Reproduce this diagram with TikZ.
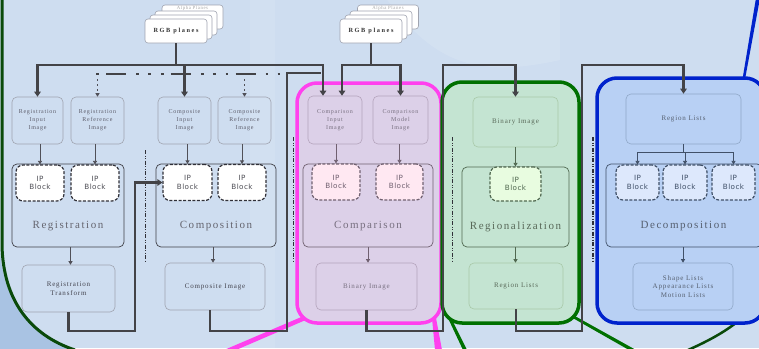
\documentclass[tikz,border=0pt]{standalone}
\usepackage{fontspec}
\setmainfont{Liberation Serif}
\newfontfamily\lsfont[LetterSpace=12]{Liberation Serif}
\newfontfamily\bigfont[LetterSpace=14]{Liberation Serif}
\newfontfamily\rgbfont[LetterSpace=25]{Liberation Serif}
\newfontfamily\ipfont[LetterSpace=6]{DejaVu Sans}
\usetikzlibrary{arrows.meta}
\definecolor{bgc}{HTML}{CEDDF0}
\definecolor{bgdark}{HTML}{A9C3E3}
\definecolor{imgb}{HTML}{A0A4B0}
\definecolor{txtc}{HTML}{5E5E6C}
\definecolor{txtd}{HTML}{44444F}
\definecolor{connc}{HTML}{434347}
\definecolor{thinc}{HTML}{505058}
\definecolor{procc}{HTML}{404048}
\definecolor{ipc}{HTML}{303038}
\definecolor{labc}{HTML}{65656F}
\definecolor{dkgreen}{HTML}{0A4A0A}
\definecolor{pinkc}{HTML}{FF40EE}
\definecolor{pinkfill}{HTML}{DCD0E8}
\definecolor{pinkb}{HTML}{B4A4BC}
\definecolor{pinkproc}{HTML}{706070}
\definecolor{pinkip}{HTML}{FFE8F2}
\definecolor{pinklab}{HTML}{787080}
\definecolor{greenc}{HTML}{007000}
\definecolor{greenfill}{HTML}{C4E4D2}
\definecolor{greenb}{HTML}{A8C8A8}
\definecolor{greenproc}{HTML}{506850}
\definecolor{greenip}{HTML}{E8FCE0}
\definecolor{greenlab}{HTML}{586858}
\definecolor{bluec}{HTML}{0022CC}
\definecolor{bluefill}{HTML}{B8D0F4}
\definecolor{blueb}{HTML}{90A8C8}
\definecolor{blueproc}{HTML}{405068}
\definecolor{blueip}{HTML}{DDE8FC}
\definecolor{bluelab}{HTML}{566070}
\tikzset{
  imgbox/.style={draw=imgb, rounded corners=5pt, line width=0.6pt, align=center,
    font=\lsfont\fontsize{6}{8}\selectfont, text=txtc, inner sep=0pt},
  outbox/.style={imgbox, font=\lsfont\fontsize{7}{8.5}\selectfont, text=txtd},
  ipbox/.style={draw=ipc, dash pattern=on 3pt off 1.6pt, line width=1.2pt, rounded corners=7pt,
    fill=white, align=center, font=\ipfont\fontsize{7.2}{8.8}\selectfont, text=ipc!85, inner sep=0pt},
  procbox/.style={draw=procc, rounded corners=5pt, line width=0.7pt, inner sep=0pt},
  biglabel/.style={font=\bigfont\fontsize{11}{12}\selectfont, text=labc},
  colbox/.style={line width=3.5pt, rounded corners=20pt, inner sep=0pt},
  stackbox/.style={draw=imgb, fill=white, rounded corners=3pt, line width=0.6pt, inner sep=0pt,
    minimum width=62pt, minimum height=24pt},
  conn/.style={draw=connc, line width=2.1pt},
  arr/.style={conn, -{Triangle[width=6.5pt,length=5pt]}},
  thinarr/.style={draw=thinc, line width=0.8pt, -{Triangle[width=4pt,length=3.5pt]}},
  ddline/.style={draw=ipc, line width=1.3pt, dash pattern=on 4pt off 1.5pt on 1pt off 1.5pt on 1pt off 1.5pt},
}
\begin{document}
\begin{tikzpicture}[x=1pt,y=-1pt]
\useasboundingbox (0,0) rectangle (759,348);
\clip (0,0) rectangle (759,348);
% background
\fill[bgc] (0,0) rectangle (759,348);
\fill[white, opacity=0.12] (380,-10) .. controls (430,60) and (470,80) .. (560,60) -- (560,-10) -- cycle;
\fill[white, opacity=0.10] (250,-5) rectangle (275,348);
\fill[bgdark] (0,250) .. controls (3,300) and (30,335) .. (75,350) -- (0,350) -- cycle;
\draw[dkgreen, line width=3pt] (2,-2) -- (2,245) .. controls (3,300) and (30,335) .. (75,350);
\draw[dkgreen, line width=2.5pt] (688,350) .. controls (715,338) and (745,322) .. (762,295);

% callout wedges
\fill[pinkc] (306,315) -- (224,350) -- (236,350) -- (308,319) -- cycle;
\fill[pinkc] (432,318) -- (435,350) -- (442,350) -- (436,318) -- cycle;
\fill[greenc] (447,316) -- (463,350) -- (467,350) -- (450,316) -- cycle;
\fill[greenc] (571,317) -- (629,350) -- (636,350) -- (573,315) -- cycle;
\fill[bluec] (742,82) -- (756,-2) -- (760,-2) -- (744.5,82) -- cycle;

% RGB stacks
\node[stackbox, minimum width=61pt] (alpha1) at (192.5,17) {};
\node[anchor=north, font=\lsfont\fontsize{4.8}{5}\selectfont, text=gray!70, inner sep=0pt] (alpha1t) at ([yshift=-1.5pt]alpha1.north) {Alpha Planes};
\node[stackbox] (l13) at (186,23) {};
\node[stackbox] (l12) at (181,27) {};
\node[stackbox, font=\rgbfont\bfseries\fontsize{6.3}{7}\selectfont, text=black!80] (rgb1) at (176,31) {RGB planes};
\node[stackbox, minimum width=61pt] (alpha2) at (388,17) {};
\node[anchor=north, font=\lsfont\fontsize{4.8}{5}\selectfont, text=gray!70, inner sep=0pt] (alpha2t) at ([yshift=-1.5pt]alpha2.north) {Alpha Planes};
\node[stackbox] (l23) at (381,23) {};
\node[stackbox] (l22) at (376,27) {};
\node[stackbox, font=\rgbfont\bfseries\fontsize{6.3}{7}\selectfont, text=black!80] (rgb2) at (371,31) {RGB planes};

% ---------- connectors under column boxes
\coordinate (busA) at (0,65);
\node[minimum width=101pt, minimum height=47pt, inner sep=0pt] (bimgph) at (366.5,286.5) {};
\node[minimum width=94pt, minimum height=46pt, inner sep=0pt] (rlph) at (516,286) {};
\draw[conn, line join=miter] (bimgph.south) |- (443,331) |- (515.5,65) -- (515.5,80);
\draw[conn, line join=miter] (rlph.south) |- (582,331) |- (683.5,65) -- (683.5,78);

% column backgrounds
\node[colbox, draw=pinkc, fill=pinkfill, minimum width=144pt, minimum height=240pt] (pinkbox) at (369,203) {};
\node[colbox, draw=greenc, fill=greenfill, minimum width=137pt, minimum height=241pt] (greenbox) at (510.5,202.5) {};
\node[colbox, draw=bluec, fill=bluefill, minimum width=168pt, minimum height=245pt] (bluebox) at (681,200.5) {};

% ---------- Column 1: Registration
\node[imgbox, minimum width=51pt, minimum height=47pt] (ri) at (37.5,120.5) {Registration\\Input\\Image};
\node[imgbox, minimum width=53pt, minimum height=47pt] (rr) at (97.5,120.5) {Registration\\Reference\\Image};
\node[procbox, minimum width=112pt, minimum height=83pt] (reg) at (68,205.5) {};
\node[ipbox, minimum width=48pt, minimum height=36pt] (rip1) at (40,183) {IP\\Block};
\node[ipbox, minimum width=48pt, minimum height=36pt] (rip2) at (95,183) {IP\\Block};
\node[biglabel] (reglab) at (68,226) {Registration};
\node[outbox, minimum width=93pt, minimum height=47pt] (rt) at (68.5,288.5) {Registration\\Transform};

% ---------- Column 2: Composition
\node[imgbox, minimum width=53pt, minimum height=47pt] (ci) at (184.5,120.5) {Composite\\Input\\Image};
\node[imgbox, minimum width=53pt, minimum height=47pt] (cr) at (244.5,120.5) {Composite\\Reference\\Image};
\node[procbox, minimum width=120pt, minimum height=83pt] (comp) at (216,205.5) {};
\node[ipbox, minimum width=49pt, minimum height=36pt] (cip1) at (187.5,182.5) {IP\\Block};
\node[ipbox, minimum width=48pt, minimum height=36pt] (cip2) at (242,182.5) {IP\\Block};
\node[biglabel] (complab) at (216,226) {Composition};
\node[outbox, minimum width=100pt, minimum height=47pt] (cimg) at (215,286.5) {Composite Image};

% ---------- Column 3: Comparison
\node[imgbox, draw=pinkb, minimum width=54pt, minimum height=48pt, text=pinklab] (mi) at (335,120) {Comparison\\Input\\Image};
\node[imgbox, draw=pinkb, minimum width=55pt, minimum height=48pt, text=pinklab] (mm) at (400.5,120) {Comparison\\Model\\Image};
\node[procbox, draw=pinkproc, minimum width=130pt, minimum height=83pt] (cmp) at (368,205.5) {};
\node[ipbox, draw=pinkproc, fill=pinkip, text=pinkproc, minimum width=48pt, minimum height=36pt] (mip1) at (336,182) {IP\\Block};
\node[ipbox, draw=pinkproc, fill=pinkip, text=pinkproc, minimum width=47pt, minimum height=36pt] (mip2) at (399.5,182) {IP\\Block};
\node[biglabel, text=pinklab] (cmplab) at (368,226) {Comparison};
\node[outbox, draw=pinkb, text=pinklab, minimum width=101pt, minimum height=47pt] (bimg) at (366.5,286.5) {Binary Image};

% ---------- Column 4: Regionalization
\node[outbox, draw=greenb, text=greenlab, minimum width=85pt, minimum height=50pt] (gbin) at (515.5,122) {Binary Image};
\node[procbox, draw=greenproc, minimum width=107pt, minimum height=80pt] (rgz) at (515.5,207) {};
\node[ipbox, draw=greenproc, fill=greenip, text=greenproc, minimum width=51pt, minimum height=34pt] (gip) at (515.5,184) {IP\\Block};
\node[biglabel, text=greenlab] (rgzlab) at (515.5,227) {Regionalization};
\node[outbox, draw=greenb, text=greenlab, minimum width=94pt, minimum height=46pt] (rl) at (516,286) {Region Lists};

% ---------- Column 5: Decomposition
\node[outbox, draw=blueb, text=bluelab, minimum width=115pt, minimum height=50pt] (drl) at (683.5,119) {Region Lists};
\node[procbox, draw=blueproc, minimum width=156pt, minimum height=83pt] (dec) at (684,205.5) {};
\node[ipbox, draw=blueproc, fill=blueip, text=blueproc, minimum width=43pt, minimum height=35pt] (dip1) at (637.5,182.5) {IP\\Block};
\node[ipbox, draw=blueproc, fill=blueip, text=blueproc, minimum width=44pt, minimum height=35pt] (dip2) at (685,182.5) {IP\\Block};
\node[ipbox, draw=blueproc, fill=blueip, text=blueproc, minimum width=43pt, minimum height=35pt] (dip3) at (733.5,182.5) {IP\\Block};
\node[biglabel, text=bluelab] (declab) at (683.5,226) {Decomposition};
\node[outbox, draw=blueb, text=bluelab, minimum width=100pt, minimum height=47pt] (sl) at (683,286.5) {Shape Lists\\Appearance Lists\\Motion Lists};

% ---------- dash-dot separators
\draw[ddline] (145.5,150) -- (145.5,262);
\draw[ddline] (293.5,137) -- (293.5,262);
\draw[ddline] (452.5,137) -- (452.5,262);
\draw[ddline] (593,137) -- (593,262);
\draw[draw=connc, line width=2.8pt, dash pattern=on 2.8pt off 7.2pt on 20pt off 10pt on 2.8pt off 9.2pt on 2.8pt off 10pt] (96,74) -- (289,74);
\draw[thinarr, line width=1.1pt, dash pattern=on 2pt off 3pt] (rr.north |- 0,79) -- (rr.north);
\draw[thinarr, line width=1.1pt, dash pattern=on 2pt off 3pt] (cr.north |- 0,79) -- (cr.north);

% ---------- thick connectors
\coordinate (mi1) at ([xshift=-12pt]mi.north);
\coordinate (mi2) at ([xshift=7pt]mi.north);
\draw[conn] (rgb1.south) -- (rgb1.south |- busA);
\draw[conn, line cap=rect] (ri.north |- busA) -- (mi1 |- busA);
\draw[arr] (ri.north |- busA) -- (ri.north);
\draw[arr] (ci.north |- busA) -- (ci.north);
\draw[arr] (mi1 |- busA) -- (mi1);
\draw[conn] (rgb2.south) -- (rgb2.south |- busA);
\draw[conn, line cap=rect] (mi2 |- busA) -- (mm.north |- busA);
\draw[arr] (mi2 |- busA) -- (mi2);
\draw[arr] (mm.north |- busA) -- (mm.north);
\draw[conn, line join=miter] ([xshift=-5pt]cimg.south) |- (287,331) -- (287,73) -- (321,73);
\draw[arr, line join=miter] (rt.south) |- (135,331) |- (cip1.west);
\draw[conn, line join=miter] (bimg.south) |- (443,331) -- (443,84);
\draw[arr, line join=miter] (443,86) -- (443,65) -| (gbin.north);
\draw[conn, line join=miter] (rl.south) |- (582,331) |- (drl.north |- busA);
\draw[arr] (drl.north |- busA) -- (drl.north);

% ---------- thin arrows
\draw[thinarr] (rip1.north |- ri.south) -- (rip1.north);
\draw[thinarr] (rip2.north |- rr.south) -- (rip2.north);
\draw[thinarr] ([xshift=2.5pt]reg.south) -- ([xshift=2.5pt]reg.south |- rt.north);
\draw[thinarr] (cip1.north |- ci.south) -- (cip1.north);
\draw[thinarr] (cip2.north |- cr.south) -- (cip2.north);
\draw[thinarr] ([xshift=-3pt]comp.south) -- ([xshift=-3pt]comp.south |- cimg.north);
\draw[thinarr, draw=pinkproc] (mip1.north |- mi.south) -- (mip1.north);
\draw[thinarr, draw=pinkproc] (mip2.north |- mm.south) -- (mip2.north);
\draw[thinarr, draw=pinkproc] (cmp.south) -- (cmp.south |- bimg.north);
\draw[thinarr, draw=greenproc] (gbin.south) -- (gip.north);
\draw[thinarr, draw=greenproc] (rgz.south) -- (rgz.south |- rl.north);
\draw[draw=blueproc, line width=1pt] (drl.south) -- (drl.south |- 0,152);
\draw[draw=blueproc, line width=1pt] (dip1.north |- 0,152) -- (dip3.north |- 0,152);
\draw[thinarr, draw=blueproc] (dip1.north |- 0,152) -- (dip1.north);
\draw[thinarr, draw=blueproc] (dip2.north |- 0,152) -- (dip2.north);
\draw[thinarr, draw=blueproc] (dip3.north |- 0,152) -- (dip3.north);
\draw[thinarr, draw=blueproc] (dec.south -| sl.north) -- (sl.north);
\end{tikzpicture}
\end{document}
